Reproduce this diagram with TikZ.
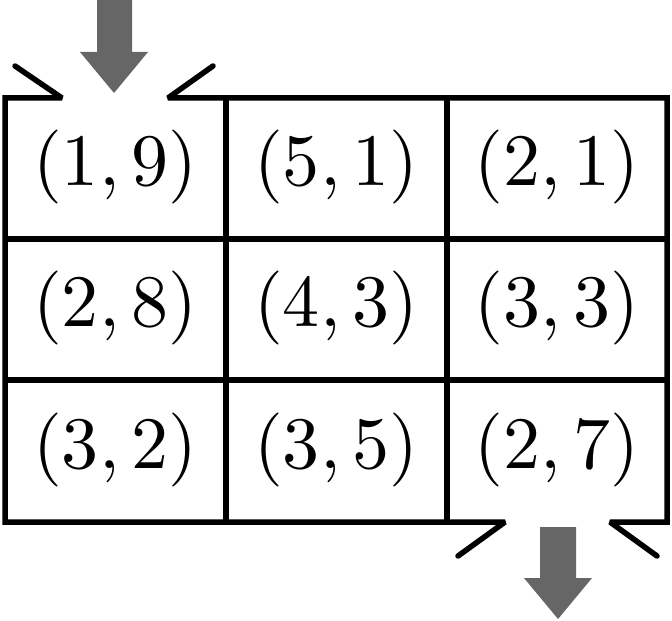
\documentclass[tikz,border=0pt]{standalone}
\begin{document}
\begin{tikzpicture}[x=0.5pt,y=-0.5pt,
  grid/.style={line width=2.75pt,black},
  border/.style={line width=2.75pt,black,line cap=round,line join=miter,miter limit=2},
  cell/.style={inner sep=0pt,font=\normalsize,scale=3.7},
  flow/.style={fill=black!60,draw=none}]
\useasboundingbox (0,0) rectangle (672,620);
% inner grid lines
\draw[grid] (5,239) -- (667,239);
\draw[grid] (5,380) -- (667,380);
\draw[grid] (226,98) -- (226,522);
\draw[grid] (447,98) -- (447,522);
% outer border with entry and exit openings
\draw[border] (15,66) -- (62,98) -- (5,98) -- (5,522) -- (505,522) -- (458,556);
\draw[border] (213,66) -- (168,98) -- (667,98) -- (667,522) -- (610,522) -- (657,556);
% cells
\node[cell] (c11) at (115.5,167) {$(1,9)$};
\node[cell] (c12) at (336.5,167) {$(5,1)$};
\node[cell] (c13) at (557,167) {$(2,1)$};
\node[cell] (c21) at (115.5,308) {$(2,8)$};
\node[cell] (c22) at (336.5,308) {$(4,3)$};
\node[cell] (c23) at (557,308) {$(3,3)$};
\node[cell] (c31) at (115.5,449.5) {$(3,2)$};
\node[cell] (c32) at (336.5,449.5) {$(3,5)$};
\node[cell] (c33) at (557,449.5) {$(2,7)$};
% entry and exit arrows
\fill[flow] (97,0) -- (132,0) -- (132,52) -- (148,52) -- (114,93) -- (80,52) -- (97,52) -- cycle;
\fill[flow] (540,527) -- (576,527) -- (576,578) -- (592,578) -- (558,619) -- (524,578) -- (540,578) -- cycle;
\end{tikzpicture}
\end{document}
